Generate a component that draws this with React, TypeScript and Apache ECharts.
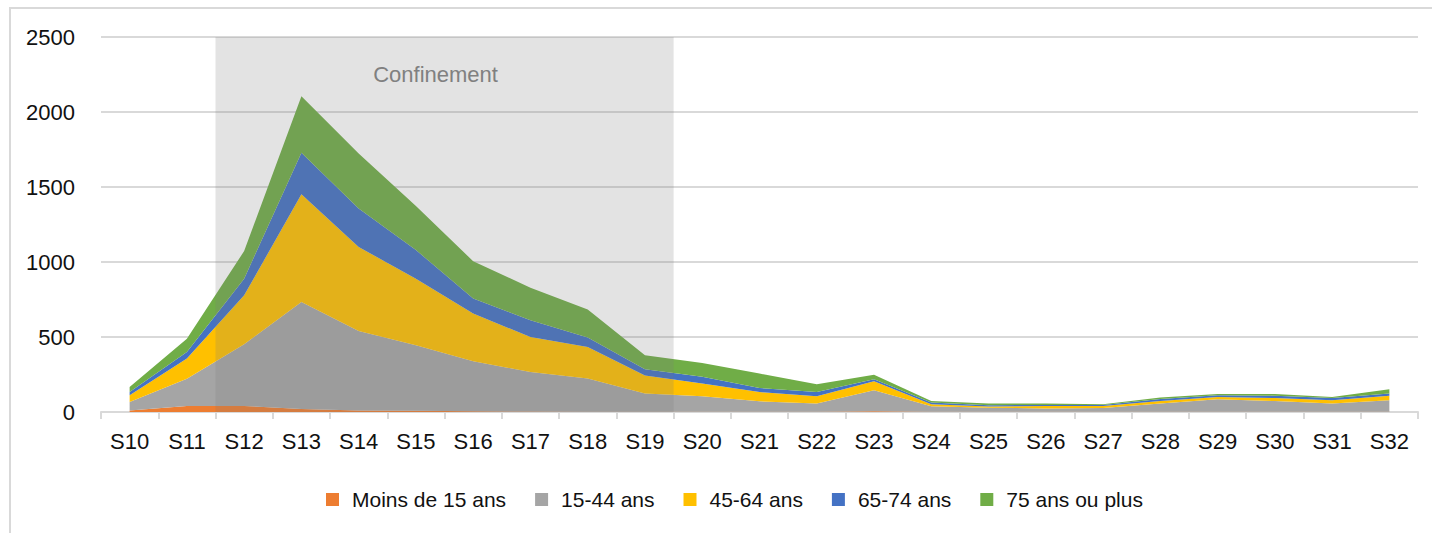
import React, { useEffect, useRef } from "react";
import * as echarts from "echarts";

const categories = ["S10","S11","S12","S13","S14","S15","S16","S17","S18","S19","S20","S21","S22","S23","S24","S25","S26","S27","S28","S29","S30","S31","S32"];
const moins15 = [10,40,40,20,10,8,5,3,2,2,1,1,1,5,1,1,1,1,1,2,1,1,1];
const ans15_44 = [57,182,411,713,530,437,333,264,221,121,104,70,55,140,37,28,22,26,55,83,72,55,77];
const ans45_64 = [44,134,327,718,560,444,318,233,210,120,85,62,49,60,13,7,17,13,17,15,20,22,31];
const ans65_74 = [22,44,111,278,256,191,100,111,63,42,45,27,28,13,12,9,7,7,14,11,16,15,14];
const ans75plus = [34,89,184,376,367,293,249,218,187,93,92,96,52,31,10,11,9,5,9,9,11,7,28];
const seriesNames = ["Moins de 15 ans","15-44 ans","45-64 ans","65-74 ans","75 ans ou plus"];
const seriesColors = ["#ED7D31","#A5A5A5","#FFC000","#4472C4","#70AD47"];
const yTicks = [0, 2500, 500];
const confinementStart = "S12";
const confinementEnd = "S19";
const confinementLabel = "Confinement";

const FONT = "'Liberation Sans', Arial, sans-serif";

export default function App() {
  const ref = useRef<HTMLDivElement>(null);
  useEffect(() => {
    document.body.style.margin = "0";
    const chart = echarts.init(ref.current!, null, { renderer: "svg" });
    const values = [moins15, ans15_44, ans45_64, ans65_74, ans75plus];
    const startIdx = categories.indexOf(confinementStart) - 0.5;
    const endIdx = categories.indexOf(confinementEnd) + 0.5;
    chart.setOption({
      animation: false,
      textStyle: { fontFamily: FONT },
      graphic: [
        {
          type: "rect",
          shape: { x: 10, y: 8, width: 1440, height: 600 },
          style: { fill: "none", stroke: "#d9d9d9", lineWidth: 2 },
          silent: true,
        },
      ],
      grid: { left: 101, right: 14, top: 37, bottom: 121, containLabel: false },
      legend: {
        left: 321,
        top: 484,
        icon: "rect",
        itemWidth: 13,
        itemHeight: 13,
        itemGap: 29,
        data: seriesNames,
        textStyle: { fontFamily: FONT, fontSize: 21, color: "#111", padding: [0, 0, 0, 8] },
      },
      xAxis: [
        {
          type: "category",
          data: categories,
          boundaryGap: true,
          axisLine: { lineStyle: { color: "#d9d9d9", width: 2 } },
          axisTick: { show: true, length: 7, interval: 0, lineStyle: { color: "#d9d9d9", width: 2 } },
          axisLabel: { interval: 0, fontFamily: FONT, fontSize: 22, color: "#111", margin: 18 },
          splitLine: { show: false },
        },
        {
          type: "value",
          min: -0.5,
          max: categories.length - 0.5,
          show: false,
          splitLine: { show: false },
        },
      ],
      yAxis: {
        type: "value",
        min: yTicks[0],
        max: yTicks[1],
        interval: yTicks[2],
        axisLine: { show: false },
        axisTick: { show: false },
        axisLabel: { fontFamily: FONT, fontSize: 22, color: "#111", margin: 26, formatter: (v: number) => String(v) },
        splitLine: { lineStyle: { color: "#d9d9d9", width: 2 } },
      },
      series: [
        ...seriesNames.map((name, i) => ({
          name,
          type: "line",
          stack: "total",
          data: values[i],
          symbol: "none",
          lineStyle: { width: 0 },
          areaStyle: { color: seriesColors[i], opacity: 1 },
          itemStyle: { color: seriesColors[i] },
          z: 2,
        })),
        {
          name: "__confinement",
          type: "line",
          xAxisIndex: 1,
          yAxisIndex: 0,
          data: [],
          z: 5,
          markArea: {
            z: 5,
            silent: true,
            itemStyle: { color: "rgba(122,122,122,0.21)" },
            label: {
              show: true,
              position: "insideTop",
              distance: 26,
              offset: [-9, 0],
              color: "#808080",
              fontFamily: FONT,
              fontSize: 22,
            },
            data: [[
              { name: confinementLabel, xAxis: startIdx, yAxis: yTicks[1] },
              { xAxis: endIdx, yAxis: yTicks[0] },
            ]],
          },
        },
      ],
    });
    return () => chart.dispose();
  }, []);
  return <div ref={ref} style={{ width: 1432, height: 533 }} />;
}
